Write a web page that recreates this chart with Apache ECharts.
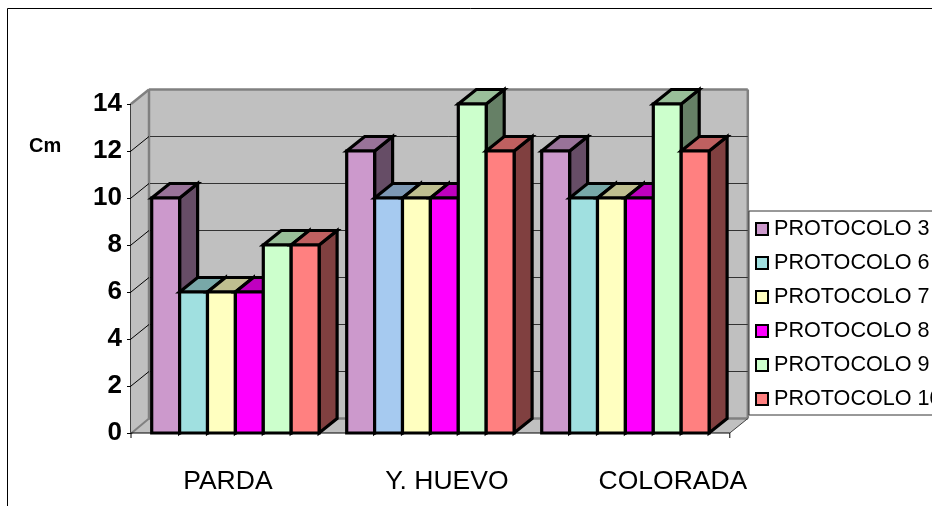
<!DOCTYPE html>
<html>
<head>
<meta charset="utf-8">
<style>html,body{margin:0;padding:0;background:#fff;overflow:hidden}#c{width:932px;height:506px}</style>
<script src="https://cdn.jsdelivr.net/npm/echarts@6/dist/echarts.min.js"></script>
</head>
<body>
<div id="c"></div>
<script>
const categories = ['PARDA', 'Y. HUEVO', 'COLORADA'];
const protocolNames = ['PROTOCOLO 3', 'PROTOCOLO 6', 'PROTOCOLO 7', 'PROTOCOLO 8', 'PROTOCOLO 9', 'PROTOCOLO 10'];
const protocolo3 = [10, 12, 12];
const protocolo6 = [6, 10, 10];
const protocolo7 = [6, 10, 10];
const protocolo8 = [6, 10, 10];
const protocolo9 = [8, 14, 14];
const protocolo10 = [8, 12, 12];
const allValues = [protocolo3, protocolo6, protocolo7, protocolo8, protocolo9, protocolo10];
const seriesColors = ['#CC99CC', '#A0E0E0', '#FFFFC0', '#FF00FF', '#CCFFCC', '#FF8080'];
const pointColorOverrides = { '1-1': '#A6CAF0' };
const yTicks = [0, 2, 4, 6, 8, 10, 12, 14];

const DX = 18, DY = -14.5, EXT = 6.9, BAR_FRAC = 27.9 / 195;
const shade = (hex, k) => {
  const n = parseInt(hex.slice(1), 16);
  const c = [n >> 16, (n >> 8) & 255, n & 255].map(v => Math.round(v * k));
  return `rgb(${c.join(',')})`;
};
const poly = (points, fill, stroke, lineWidth, z2) => ({
  type: 'polygon', shape: { points }, z2: z2 || 0,
  style: { fill, stroke, lineWidth, lineJoin: 'miter' }
});
const line = (a, b, stroke, lineWidth, z2) => ({
  type: 'line', shape: { x1: a[0], y1: a[1], x2: b[0], y2: b[1] }, z2: z2 || 0,
  style: { stroke, lineWidth }
});

function renderWalls(params, api) {
  const cs = params.coordSys;
  const L = cs.x - EXT, R = cs.x + cs.width + EXT, T = cs.y, B = cs.y + cs.height;
  const wall = '#C0C0C0', edge = '#808080';
  return { type: 'group', children: [
    poly([[L, T], [L + DX, T + DY], [L + DX, B + DY], [L, B]], wall, null, 0),
    poly([[L + DX, T + DY], [R + DX, T + DY], [R + DX, B + DY], [L + DX, B + DY]], wall, null, 0),
    poly([[L, B], [L + DX, B + DY], [R + DX, B + DY], [R, B]], wall, null, 0),
    line([L, T], [L + DX, T + DY], edge, 2.5, 1),
    line([L + DX, T + DY], [R + DX, T + DY], edge, 2.5, 1),
    line([L + DX, T + DY], [L + DX, B + DY], edge, 2.5, 1),
    line([R + DX, T + DY], [R + DX, B + DY], edge, 2.5, 1),
    line([L + DX, B + DY], [R + DX, B + DY], edge, 2.5, 1),
    line([L, B + 0.5], [L + DX, B + DY], edge, 2, 1),
    line([R, B], [R + DX, B + DY], '#404040', 1, 1),
    line([L, B], [R, B], '#000', 1, 3),
    line([L, B], [L, B + 5], '#000', 1, 3),
    line([R, B], [R, B + 5], '#000', 1, 3)
  ] };
}

function renderGrid(params, api) {
  const cs = params.coordSys;
  const L = cs.x - EXT, R = cs.x + cs.width + EXT;
  const y = api.coord([0, api.value(0)])[1];
  if (api.value(0) === 0 || api.value(0) === 14) return { type: 'group', children: [] };
  return { type: 'group', children: [
    line([L, y], [L + DX, y + DY], '#000', 1),
    line([L + DX + 1, y + DY], [R + DX, y + DY], '#333', 1)
  ] };
}

function makeBarRenderer(seriesIdx) {
  return function (params, api) {
    const catIdx = api.value(0), val = api.value(1);
    const top = api.coord([catIdx, val]), base = api.coord([catIdx, 0]);
    const step = api.size([1, 0])[0];
    const w = step * BAR_FRAC;
    const x0 = top[0] - 3 * w + seriesIdx * w, x1 = x0 + w;
    const color = pointColorOverrides[seriesIdx + '-' + catIdx] || seriesColors[seriesIdx];
    const yT = top[1], yB = base[1];
    const s = '#000', lw = 3.2;
    return { type: 'group', children: [
      poly([[x1, yT], [x1 + DX, yT + DY], [x1 + DX, yB + DY], [x1, yB]], shade(color, 0.5), s, lw, 1),
      poly([[x0, yT], [x0 + DX, yT + DY], [x1 + DX, yT + DY], [x1, yT]], shade(color, 0.75), s, lw, 2),
      poly([[x0, yT], [x1, yT], [x1, yB], [x0, yB]], color, s, lw, 3)
    ] };
  };
}

const barSeries = protocolNames.map((name, i) => ({
  name, type: 'custom', z: 5 + i,
  coordinateSystem: 'cartesian2d',
  itemStyle: { color: seriesColors[i] },
  renderItem: makeBarRenderer(i),
  encode: { x: 0, y: 1 },
  data: allValues[i].map((v, c) => [c, v])
}));

const chart = echarts.init(document.getElementById('c'), null, { renderer: 'canvas' });
chart.setOption({
  animation: false,
  backgroundColor: '#fff',
  textStyle: { fontFamily: '"Liberation Sans", Arial, sans-serif' },
  title: {
    text: 'Cm', left: 24, top: 131,
    textStyle: { fontFamily: '"Liberation Sans"', fontSize: 20, fontWeight: 'bold', color: '#000' }
  },
  graphic: [{
    type: 'rect', silent: true, z: -1,
    shape: { x: 7.5, y: 8.5, width: 1000, height: 1000 },
    style: { fill: null, stroke: '#000', lineWidth: 1 }
  }],
  grid: { left: 137.9, top: 104, width: 585, height: 329, containLabel: false },
  xAxis: {
    type: 'category', data: categories, boundaryGap: true,
    axisLine: { show: false }, axisTick: { show: false }, splitLine: { show: false },
    axisLabel: {
      interval: 0, margin: 35, color: '#000', fontSize: 26.5, fontFamily: '"Liberation Sans"',
      formatter: (v) => ({ 'PARDA': '{a|PARDA}', 'Y. HUEVO': '{b|Y. HUEVO}', 'COLORADA': '{c|COLORADA}' }[v]),
      rich: {
        a: { fontSize: 26.5, color: '#000', padding: [0, 15, 0, 0] },
        b: { fontSize: 26.5, color: '#000', padding: [0, 0, 0, 33] },
        c: { fontSize: 26.5, color: '#000', padding: [0, 0, 0, 95] }
      }
    }
  },
  yAxis: {
    type: 'value', min: 0, max: 14, interval: 2, offset: 6.9,
    axisLine: { show: true, lineStyle: { color: '#000', width: 1.5 } },
    axisTick: { show: true, length: 4, lineStyle: { color: '#000', width: 1 } },
    splitLine: { show: false },
    axisLabel: { color: '#000', fontSize: 26, fontWeight: 'bold', margin: 9, padding: [2, 0, 0, 0], fontFamily: '"Liberation Sans"' }
  },
  legend: {
    data: protocolNames, orient: 'vertical', left: 749, top: 211,
    backgroundColor: '#fff', borderColor: '#333', borderWidth: 1,
    padding: [5, 40, 3, 6], itemGap: 8, itemWidth: 12, itemHeight: 12,
    icon: 'rect', selectedMode: false,
    itemStyle: { borderColor: '#000', borderWidth: 2 },
    textStyle: { color: '#000', fontSize: 21.6, fontFamily: '"Liberation Sans"', padding: [0, 0, 0, 1], lineHeight: 26, height: 26 }
  },
  series: [
    { type: 'custom', name: '_walls', z: 1, renderItem: renderWalls, silent: true, data: [[0, 0]], encode: { x: 0, y: 1 } },
    { type: 'custom', name: '_grid', z: 2, renderItem: renderGrid, silent: true, data: yTicks.map(v => [v]), encode: { y: 0 } },
    ...barSeries
  ]
});
</script>
</body>
</html>
